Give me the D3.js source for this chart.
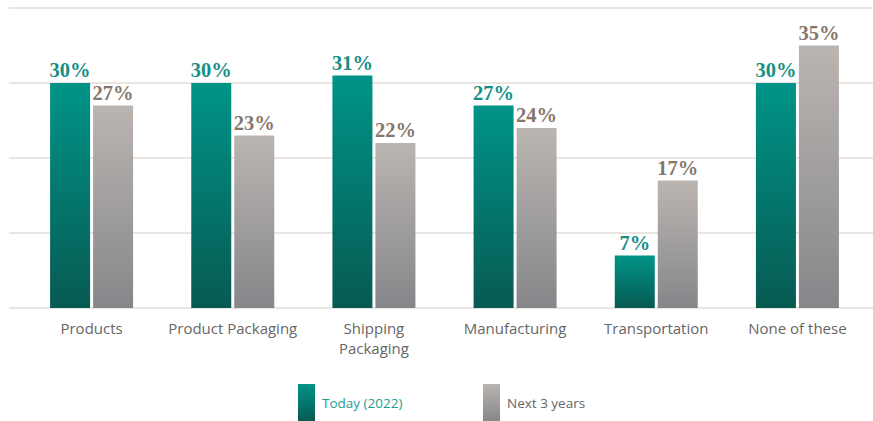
<!DOCTYPE html>
<html>
<head>
<meta charset="utf-8">
<script src="https://cdn.jsdelivr.net/npm/d3@7"></script>
<style>
  body { margin: 0; background: #fff; }
  svg { display: block; }
</style>
</head>
<body>
<div id="chart"></div>
<script>
// data
let categories = ['Products', 'Product Packaging', 'Shipping Packaging', 'Manufacturing', 'Transportation', 'None of these']
let today = [30, 30, 31, 27, 7, 30]
let nextYears = [27, 23, 22, 24, 17, 35]
let seriesNames = ['Today (2022)', 'Next 3 years']
let gridTicks = [0, 10, 20, 30, 40]

let width = 873
let height = 421
let margin = { top: 8, left: 9, right: 0, bottom: 113 }
let plotH = height - margin.top - margin.bottom

let svg = d3.select('#chart')
  .append('svg')
  .attr('width', width)
  .attr('height', height)

// gradients
let defs = svg.append('defs')
let tealGrad = defs.append('linearGradient')
  .attr('id', 'teal').attr('x1', 0).attr('y1', 0).attr('x2', 0).attr('y2', 1)
tealGrad.append('stop').attr('offset', '0%').attr('stop-color', '#009488')
tealGrad.append('stop').attr('offset', '100%').attr('stop-color', '#075a52')
let greyGrad = defs.append('linearGradient')
  .attr('id', 'grey').attr('x1', 0).attr('y1', 0).attr('x2', 0).attr('y2', 1)
greyGrad.append('stop').attr('offset', '0%').attr('stop-color', '#bbb5b1')
greyGrad.append('stop').attr('offset', '100%').attr('stop-color', '#86868a')

// Scales
let yPositionScale = d3.scaleLinear()
  .domain([0, 40])
  .range([margin.top + plotH, margin.top])

let xBand = d3.scaleBand()
  .domain(categories)
  .range([21, 868])

let barW = 40
let gap = 3

// gridlines
svg.append('g')
  .selectAll('line')
  .data(gridTicks)
  .enter()
  .append('line')
  .attr('x1', margin.left)
  .attr('x2', width)
  .attr('y1', d => yPositionScale(d))
  .attr('y2', d => yPositionScale(d))
  .attr('stroke', '#e4ddd8')
  .attr('stroke-width', 1.5)

let series = [
  { name: seriesNames[0], values: today, fill: 'url(#teal)', label: '#168f85', offset: -(barW + gap / 2) },
  { name: seriesNames[1], values: nextYears, fill: 'url(#grey)', label: '#86776d', offset: gap / 2 }
]

series.forEach(s => {
  let g = svg.append('g')
  let center = c => xBand(c) + xBand.bandwidth() / 2
  g.selectAll('rect')
    .data(categories)
    .enter()
    .append('rect')
    .attr('x', (d, i) => center(d) + s.offset)
    .attr('y', (d, i) => yPositionScale(s.values[i]))
    .attr('width', barW)
    .attr('height', (d, i) => yPositionScale(0) - yPositionScale(s.values[i]))
    .attr('fill', s.fill)

  g.selectAll('text')
    .data(categories)
    .enter()
    .append('text')
    .text((d, i) => s.values[i] + '%')
    .attr('x', (d, i) => center(d) + s.offset + barW / 2)
    .attr('y', (d, i) => yPositionScale(s.values[i]) - 6)
    .attr('text-anchor', 'middle')
    .attr('font-family', '"Liberation Serif", serif')
    .attr('font-weight', 'bold')
    .attr('font-size', 20.5)
    .attr('fill', s.label)
})

// category labels
let labelLines = {
  'Shipping Packaging': ['Shipping', 'Packaging']
}
svg.append('g')
  .selectAll('text')
  .data(categories)
  .enter()
  .append('text')
  .attr('x', d => xBand(d) + xBand.bandwidth() / 2)
  .attr('y', 334)
  .attr('text-anchor', 'middle')
  .attr('font-family', '"Open Sans", sans-serif')
  .attr('font-size', 15)
  .attr('fill', '#666')
  .each(function (d) {
    let lines = labelLines[d] || [d]
    let t = d3.select(this)
    lines.forEach((line, i) => {
      t.append('tspan')
        .attr('x', xBand(d) + xBand.bandwidth() / 2)
        .attr('dy', i === 0 ? 0 : 20)
        .text(line)
    })
  })

// legend
let legend = [
  { name: seriesNames[0], fill: 'url(#teal)', color: '#1e9c92', x: 298 },
  { name: seriesNames[1], fill: 'url(#grey)', color: '#666', x: 483 }
]
let lg = svg.append('g')
legend.forEach(l => {
  lg.append('rect')
    .attr('x', l.x)
    .attr('y', 384)
    .attr('width', 17)
    .attr('height', 37)
    .attr('fill', l.fill)
  lg.append('text')
    .attr('x', l.x + 24)
    .attr('y', 408)
    .attr('font-family', '"Open Sans", sans-serif')
    .attr('font-size', 13.5)
    .attr('fill', l.color)
    .text(l.name)
})
</script>
</body>
</html>
